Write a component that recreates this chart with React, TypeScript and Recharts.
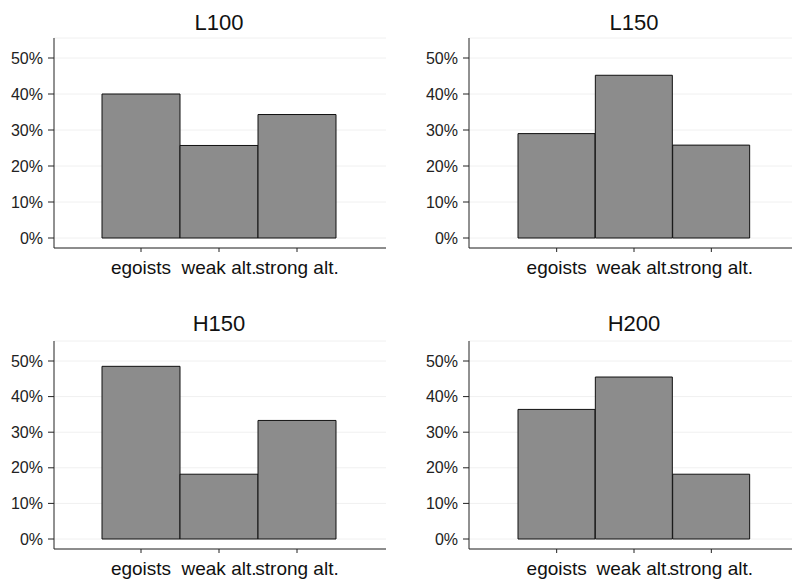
import { BarChart, Bar, XAxis, YAxis, CartesianGrid } from 'recharts'

const categories = ['egoists', 'weak alt.', 'strong alt.']
const l100 = [40.0, 25.7, 34.3]
const l150 = [29.0, 45.2, 25.8]
const h150 = [48.5, 18.2, 33.3]
const h200 = [36.4, 45.5, 18.2]
const yTicks = [0, 10, 20, 30, 40, 50]

const FONT = '"Liberation Sans", Arial, sans-serif'
const INK = '#222'

interface PanelProps {
  title: string
  values: number[]
  left: number
  top: number
  width: number
  height: number
  yWidth: number
  marginTop: number
  marginRight: number
  xHeight: number
  padLeft: number
  padRight: number
  titleX: number
  titleTop: number
}

function Panel(p: PanelProps) {
  const data = categories.map((c, i) => ({ name: c, value: p.values[i] }))
  return (
    <>
      <div
        style={{
          position: 'absolute',
          left: p.titleX - 60,
          top: p.titleTop,
          width: 120,
          textAlign: 'center',
          fontFamily: FONT,
          fontSize: 22,
          lineHeight: '22px',
          color: '#111',
        }}
      >
        {p.title}
      </div>
      <div style={{ position: 'absolute', left: p.left, top: p.top }}>
        <BarChart
          width={p.width}
          height={p.height}
          data={data}
          margin={{ top: p.marginTop, right: p.marginRight, bottom: 0, left: 0 }}
          barCategoryGap={0}
        >
          <CartesianGrid vertical={false} stroke="#f0f0f0" />
          <XAxis
            dataKey="name"
            height={p.xHeight}
            padding={{ left: p.padLeft, right: p.padRight }}
            stroke={INK}
            tickSize={4}
            tickMargin={9}
            interval={0}
            tick={{ fill: '#111', fontSize: 19, fontFamily: FONT }}
          />
          <YAxis
            width={p.yWidth}
            domain={[0, 50]}
            ticks={yTicks}
            padding={{ top: 20, bottom: 10 }}
            tickFormatter={(v) => `${v}%`}
            stroke={INK}
            tickSize={6}
            tickMargin={5}
            tick={{ fill: '#222', fontSize: 16, fontFamily: FONT }}
          />
          <Bar dataKey="value" fill="#8c8c8c" stroke="#111" strokeWidth={1} isAnimationActive={false} />
        </BarChart>
      </div>
    </>
  )
}

export default function App() {
  return (
    <div style={{ position: 'absolute', left: 0, top: 0, width: 792, height: 583, background: '#fff', overflow: 'hidden' }}>
      <Panel title="L100" values={l100} left={0} top={0} width={396} height={290} yWidth={54} marginTop={38} marginRight={10} xHeight={42} padLeft={48} padRight={50} titleX={219} titleTop={12} />
      <Panel title="L150" values={l150} left={396} top={0} width={396} height={290} yWidth={73} marginTop={38} marginRight={0} xHeight={42} padLeft={49} padRight={42} titleX={634} titleTop={12} />
      <Panel title="H150" values={h150} left={0} top={290} width={396} height={293} yWidth={54} marginTop={51} marginRight={10} xHeight={34} padLeft={48} padRight={50} titleX={219} titleTop={313} />
      <Panel title="H200" values={h200} left={396} top={290} width={396} height={293} yWidth={73} marginTop={51} marginRight={0} xHeight={34} padLeft={49} padRight={42} titleX={634} titleTop={313} />
    </div>
  )
}
